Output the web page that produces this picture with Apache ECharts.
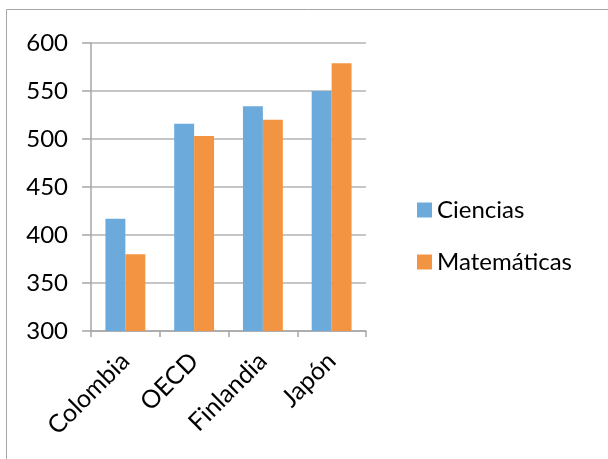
<!DOCTYPE html>
<html>
<head>
<meta charset="utf-8">
<script src="https://cdn.jsdelivr.net/npm/echarts@6/dist/echarts.min.js"></script>
<style>
html,body{margin:0;padding:0;background:#fff;}
#chart{width:608px;height:459px;}
</style>
</head>
<body>
<div id="chart"></div>
<script>
const categories = ['Colombia', 'OECD', 'Finlandia', 'Japón'];
const ciencias = [417, 516, 534, 550];
const matematicas = [380, 503, 520, 579];
const seriesNames = ['Ciencias', 'Matemáticas'];
const yTicks = { min: 300, max: 600, interval: 50 };

const FONT = 'Lato';
const chart = echarts.init(document.getElementById('chart'), null, { renderer: 'canvas' });
chart.setOption({
  animation: false,
  backgroundColor: '#ffffff',
  graphic: [{
    type: 'rect',
    shape: { x: 6.5, y: 9.5, width: 640, height: 500 },
    style: { fill: 'none', stroke: '#a6a6a6', lineWidth: 1 },
    silent: true
  }],
  grid: { left: 91, right: 242, top: 43, bottom: 128, containLabel: false },
  legend: {
    orient: 'vertical',
    left: 417,
    top: 198,
    padding: 0,
    itemWidth: 15,
    itemHeight: 15,
    itemGap: 28,
    icon: 'rect',
    textStyle: { fontFamily: FONT, fontSize: 24, lineHeight: 15, color: '#000', padding: 0 },
    data: seriesNames
  },
  xAxis: {
    type: 'category',
    data: categories,
    axisLine: { lineStyle: { color: '#a6a6a6', width: 1.5 } },
    axisTick: { show: true, length: 6, lineStyle: { color: '#a6a6a6', width: 1.5 } },
    axisLabel: { rotate: 45, fontFamily: FONT, fontSize: 25, color: '#000', margin: 26 }
  },
  yAxis: {
    type: 'value',
    min: yTicks.min,
    max: yTicks.max,
    interval: yTicks.interval,
    axisLine: { show: true, lineStyle: { color: '#a6a6a6', width: 1.5 } },
    axisTick: { show: true, length: 9, lineStyle: { color: '#a6a6a6', width: 1.5 } },
    splitLine: { lineStyle: { color: '#b3b3b3', width: 1.5 } },
    axisLabel: { fontFamily: FONT, fontSize: 24, color: '#000', margin: 23 }
  },
  series: [
    {
      name: seriesNames[0], type: 'bar', data: ciencias,
      barGap: '0%', barCategoryGap: '42%',
      itemStyle: { color: '#6caadc' }
    },
    {
      name: seriesNames[1], type: 'bar', data: matematicas,
      barGap: '0%', barCategoryGap: '42%',
      itemStyle: { color: '#f29441' }
    }
  ]
});
</script>
</body>
</html>
